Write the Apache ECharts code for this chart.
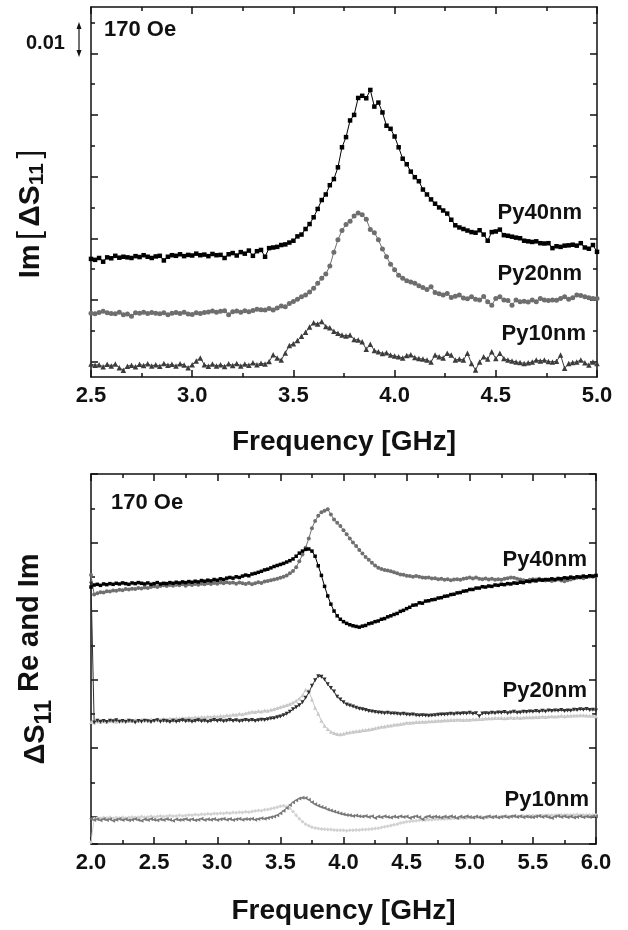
<!DOCTYPE html>
<html>
<head>
<meta charset="utf-8">
<script src="https://cdn.jsdelivr.net/npm/echarts@6/dist/echarts.min.js"></script>
<style>html,body{margin:0;padding:0;background:#fff}#c{width:628px;height:930px}</style>
</head>
<body>
<div id="c"></div>
<script>
// ---------- DATA ----------
// Top panel: Im[dS11], 0.01 units, f = 2.50 .. 5.00 GHz, step 0.02
const freqTop = [];
for (let i = 0; i < 126; i++) freqTop.push(+(2.5 + 0.02 * i).toFixed(2));
const topPy40 = [3.83,3.80,3.86,3.74,3.88,3.85,3.93,3.87,3.90,3.88, 3.86,3.92,3.89,3.95,3.90,3.86,3.91,3.93,3.78,3.90,
 3.95,3.93,3.98,3.92,3.96,3.94,4.00,3.95,3.97,3.92, 3.99,3.95,3.96,3.86,3.98,4.02,3.94,4.05,4.00,4.10,
 3.93,4.08,4.12,3.90,4.18,4.20,4.22,4.28,4.30,4.36, 4.42,4.56,4.62,4.80,4.96,5.18,5.45,5.74,5.92,6.22,
 6.42,6.80,7.45,7.78,8.32,8.50,9.05,9.12,9.04,9.31, 8.77,8.90,8.58,8.15,8.05,7.80,7.45,7.08,6.90,6.66,
 6.48,6.35,6.08,5.92,5.76,5.62,5.50,5.40,5.30,5.10, 4.92,4.85,4.80,4.75,4.70,4.68,4.76,4.62,4.42,4.70,
 4.72,4.78,4.60,4.58,4.55,4.52,4.50,4.42,4.40,4.38, 4.40,4.34,4.33,4.34,4.18,4.24,4.22,4.26,4.27,4.29,
 4.26,4.34,4.20,4.16,4.28,4.06];
const topPy20 = [2.07,2.05,2.09,2.13,2.08,2.06,2.05,2.10,2.02,2.04, 1.97,2.08,2.07,2.10,2.06,2.09,2.07,2.05,2.08,2.02,
 2.07,2.09,2.06,2.10,2.04,2.03,2.08,2.06,2.09,2.11, 2.14,2.10,2.13,2.15,2.02,2.12,2.14,2.10,2.15,2.12,
 2.16,2.20,2.18,2.17,2.22,2.17,2.24,2.30,2.28,2.38, 2.45,2.52,2.60,2.66,2.76,2.88,3.04,3.20,3.34,3.60,
 4.05,4.45,4.75,4.95,5.05,5.22,5.32,5.26,5.12,4.78, 4.68,4.45,4.15,3.90,3.66,3.48,3.30,3.20,3.12,3.08,
 3.04,2.96,2.90,2.84,2.93,2.74,2.70,2.66,2.71,2.58, 2.62,2.66,2.56,2.54,2.60,2.52,2.50,2.61,2.44,2.33,
 2.55,2.60,2.50,2.48,2.33,2.50,2.44,2.46,2.43,2.50, 2.44,2.55,2.50,2.48,2.50,2.49,2.55,2.60,2.52,2.57,
 2.66,2.64,2.60,2.57,2.55,2.55];
const topPy10 = [0.42,0.38,0.40,0.33,0.41,0.36,0.42,0.30,0.22,0.35, 0.38,0.33,0.41,0.37,0.43,0.36,0.40,0.35,0.44,0.38,
 0.41,0.36,0.43,0.39,0.30,0.40,0.52,0.62,0.40,0.35, 0.42,0.36,0.40,0.34,0.43,0.37,0.44,0.36,0.42,0.38,
 0.46,0.40,0.45,0.42,0.50,0.72,0.62,0.55,0.78,1.02, 1.08,1.18,1.32,1.45,1.62,1.76,1.72,1.80,1.64,1.60,
 1.48,1.42,1.36,1.33,1.36,1.22,1.20,1.14,0.90,1.06, 0.86,0.82,0.76,0.79,0.71,0.68,0.66,0.62,0.70,0.72,
 0.63,0.60,0.58,0.55,0.49,0.71,0.66,0.62,0.77,0.71, 0.55,0.58,0.55,0.77,0.44,0.23,0.49,0.66,0.58,0.82,
 0.60,0.77,0.60,0.55,0.52,0.49,0.47,0.44,0.46,0.49, 0.55,0.52,0.55,0.50,0.49,0.51,0.71,0.28,0.44,0.47,
 0.49,0.55,0.46,0.39,0.49,0.44];

// Bottom panel: dS11 Re and Im (offset traces), f = 2.000 .. 6.000 GHz, step 0.025
const freqBot = [];
for (let i = 0; i < 161; i++) freqBot.push(+(2.0 + 0.025 * i).toFixed(3));
const botPy40Re = [7.50,7.56,7.58,7.55,7.59,7.57,7.60,7.58,7.61,7.59, 7.62,7.60,7.58,7.62,7.60,7.63,7.61,7.59,7.62,7.58,
 7.60,7.63,7.59,7.61,7.60,7.63,7.61,7.64,7.62,7.65, 7.63,7.66,7.64,7.67,7.65,7.69,7.67,7.70,7.68,7.72,
 7.70,7.74,7.72,7.76,7.78,7.76,7.80,7.78,7.82,7.85, 7.83,7.88,7.90,7.93,7.96,8.00,8.02,8.06,8.10,8.13,
 8.16,8.19,8.23,8.27,8.32,8.40,8.49,8.55,8.60,8.61, 8.55,8.40,8.12,7.84,7.52,7.24,7.00,6.80,6.66,6.56,
 6.49,6.44,6.40,6.37,6.35,6.33,6.36,6.38,6.43,6.45, 6.49,6.51,6.56,6.58,6.63,6.66,6.70,6.73,6.79,6.82,
 6.87,6.91,6.97,6.98,7.04,7.03,7.09,7.10,7.13,7.14, 7.18,7.19,7.23,7.24,7.28,7.29,7.33,7.34,7.38,7.39,
 7.43,7.43,7.47,7.47,7.51,7.50,7.53,7.52,7.56,7.55, 7.58,7.57,7.60,7.59,7.62,7.61,7.64,7.63,7.67,7.66,
 7.69,7.68,7.71,7.70,7.72,7.71,7.74,7.72,7.75,7.74, 7.77,7.76,7.79,7.77,7.80,7.79,7.82,7.80,7.83,7.82,
 7.84];
const botPy40Im = [7.85,7.28,7.32,7.35,7.34,7.38,7.37,7.40,7.39,7.42, 7.41,7.44,7.43,7.45,7.44,7.47,7.46,7.49,7.47,7.50,
 7.52,7.50,7.53,7.55,7.53,7.56,7.54,7.57,7.55,7.58, 7.54,7.58,7.56,7.59,7.57,7.60,7.58,7.61,7.59,7.62,
 7.60,7.63,7.61,7.64,7.62,7.63,7.60,7.63,7.61,7.59, 7.62,7.58,7.61,7.64,7.62,7.66,7.68,7.70,7.72,7.74,
 7.77,7.80,7.84,7.90,7.97,8.08,8.25,8.45,8.65,8.92, 9.22,9.43,9.58,9.68,9.73,9.77,9.62,9.47,9.38,9.28,
 9.16,9.04,8.92,8.80,8.70,8.58,8.48,8.38,8.30,8.21, 8.13,8.06,8.03,8.00,7.98,7.96,7.93,7.90,7.87,7.86,
 7.83,7.82,7.80,7.82,7.80,7.78,7.77,7.78,7.75,7.76, 7.73,7.74,7.71,7.73,7.70,7.72,7.73,7.71,7.74,7.76,
 7.78,7.75,7.78,7.74,7.73,7.75,7.72,7.74,7.71,7.73, 7.71,7.74,7.76,7.78,7.77,7.74,7.72,7.70,7.68,7.71,
 7.73,7.72,7.74,7.71,7.69,7.72,7.68,7.70,7.72,7.69, 7.67,7.70,7.72,7.75,7.77,7.78,7.76,7.79,7.81,7.80,
 7.83];
const botPy20Im = [7.60,3.55,3.60,3.57,3.59,3.56,3.60,3.58,3.61,3.57, 3.59,3.56,3.60,3.58,3.55,3.59,3.57,3.60,3.58,3.56,
 3.59,3.61,3.57,3.60,3.58,3.56,3.60,3.57,3.59,3.61, 3.58,3.60,3.57,3.59,3.61,3.58,3.60,3.57,3.59,3.62,
 3.59,3.61,3.58,3.60,3.62,3.59,3.61,3.58,3.60,3.62, 3.60,3.62,3.59,3.61,3.63,3.62,3.64,3.66,3.67,3.70,
 3.72,3.76,3.80,3.86,3.93,3.99,4.05,4.14,4.27,4.42, 4.62,4.78,4.90,4.88,4.80,4.66,4.55,4.45,4.30,4.22,
 4.14,4.07,4.04,4.01,3.98,3.95,3.93,3.91,3.88,3.87, 3.85,3.84,3.83,3.82,3.83,3.81,3.81,3.80,3.79,3.80,
 3.78,3.77,3.78,3.76,3.75,3.76,3.75,3.74,3.75,3.76, 3.77,3.78,3.78,3.79,3.80,3.79,3.81,3.80,3.82,3.81,
 3.83,3.80,3.82,3.73,3.81,3.82,3.81,3.83,3.82,3.84, 3.83,3.85,3.82,3.84,3.86,3.83,3.84,3.86,3.85,3.87,
 3.86,3.88,3.86,3.89,3.87,3.90,3.88,3.90,3.89,3.91, 3.88,3.90,3.89,3.92,3.91,3.93,3.92,3.94,3.91,3.92,
 3.90];
const botPy20Re = [3.56,3.55,3.58,3.56,3.59,3.57,3.60,3.58,3.57,3.60, 3.58,3.61,3.59,3.60,3.62,3.60,3.63,3.61,3.62,3.64,
 3.62,3.64,3.63,3.65,3.64,3.66,3.65,3.67,3.66,3.68, 3.67,3.69,3.68,3.70,3.69,3.71,3.70,3.72,3.71,3.73,
 3.72,3.74,3.73,3.76,3.75,3.78,3.77,3.80,3.79,3.82, 3.84,3.86,3.85,3.88,3.87,3.90,3.89,3.92,3.94,3.97,
 4.00,4.03,4.06,4.09,4.13,4.18,4.25,4.34,4.50,4.48, 4.22,3.98,3.80,3.60,3.45,3.36,3.28,3.24,3.21,3.20,
 3.22,3.25,3.26,3.28,3.29,3.30,3.32,3.33,3.34,3.36, 3.38,3.40,3.42,3.43,3.45,3.46,3.48,3.49,3.50,3.52,
 3.54,3.54,3.55,3.56,3.56,3.57,3.57,3.58,3.58,3.59, 3.60,3.60,3.61,3.61,3.62,3.62,3.63,3.63,3.62,3.63,
 3.63,3.64,3.64,3.65,3.65,3.66,3.67,3.67,3.68,3.68, 3.68,3.67,3.68,3.69,3.68,3.69,3.68,3.69,3.70,3.70,
 3.70,3.71,3.71,3.72,3.71,3.72,3.73,3.72,3.73,3.74, 3.73,3.74,3.74,3.75,3.75,3.76,3.76,3.75,3.74,3.74,
 3.73];
const botPy10Im = [0.74,0.70,0.72,0.69,0.73,0.70,0.72,0.68,0.71,0.73, 0.70,0.72,0.69,0.71,0.73,0.70,0.68,0.72,0.70,0.73,
 0.71,0.69,0.72,0.70,0.73,0.71,0.68,0.72,0.70,0.71, 0.73,0.70,0.72,0.69,0.71,0.74,0.70,0.72,0.71,0.73,
 0.70,0.72,0.74,0.71,0.73,0.70,0.72,0.74,0.71,0.73, 0.72,0.74,0.71,0.73,0.75,0.74,0.76,0.78,0.80,0.84,
 0.90,0.97,1.05,1.14,1.22,1.28,1.33,1.35,1.34,1.29, 1.22,1.16,1.12,1.08,1.05,1.01,0.98,0.95,0.92,0.89,
 0.87,0.85,0.84,0.82,0.83,0.81,0.80,0.82,0.79,0.81, 0.76,0.80,0.78,0.81,0.79,0.77,0.80,0.78,0.81,0.79,
 0.80,0.76,0.79,0.81,0.78,0.72,0.79,0.81,0.78,0.80, 0.79,0.77,0.80,0.78,0.81,0.79,0.76,0.80,0.78,0.81,
 0.79,0.77,0.80,0.78,0.76,0.79,0.81,0.78,0.80,0.77, 0.79,0.81,0.78,0.80,0.82,0.79,0.81,0.78,0.80,0.79,
 0.78,0.80,0.82,0.79,0.81,0.78,0.76,0.80,0.82,0.79, 0.81,0.78,0.80,0.77,0.79,0.81,0.78,0.80,0.79,0.81,
 0.81];
const botPy10Re = [0.05,0.74,0.76,0.75,0.77,0.76,0.78,0.75,0.77,0.76, 0.78,0.76,0.77,0.79,0.77,0.78,0.80,0.78,0.79,0.81,
 0.79,0.80,0.82,0.80,0.81,0.83,0.81,0.82,0.84,0.82, 0.83,0.85,0.84,0.86,0.85,0.87,0.86,0.88,0.87,0.89,
 0.88,0.90,0.89,0.91,0.90,0.92,0.91,0.93,0.92,0.94, 0.93,0.95,0.96,0.98,0.97,1.00,1.01,1.03,1.05,1.07,
 1.10,1.12,1.09,1.04,0.95,0.84,0.74,0.65,0.58,0.53, 0.49,0.47,0.45,0.44,0.43,0.42,0.42,0.41,0.40,0.40,
 0.40,0.39,0.40,0.40,0.41,0.41,0.42,0.42,0.43,0.44, 0.45,0.46,0.48,0.50,0.52,0.54,0.56,0.58,0.61,0.63,
 0.65,0.66,0.67,0.68,0.69,0.70,0.70,0.71,0.71,0.72, 0.72,0.73,0.73,0.74,0.74,0.75,0.75,0.76,0.76,0.76,
 0.77,0.77,0.77,0.78,0.78,0.78,0.79,0.79,0.79,0.79, 0.80,0.80,0.80,0.80,0.81,0.81,0.81,0.82,0.82,0.82,
 0.83,0.83,0.83,0.83,0.84,0.84,0.84,0.84,0.85,0.85, 0.85,0.85,0.85,0.85,0.86,0.85,0.85,0.85,0.85,0.85,
 0.85];

// ---------- CHART ----------
const FONT = '"Liberation Sans", Arial, Helvetica, sans-serif';
const INK = '#111';
const tickCats = Array(12).fill('');
const pairs = (fr, vals) => fr.map((f, i) => [f, vals[i]]);

function xAxisDef(grid, pos, min, max, withLabels, gap) {
  const a = {
    gridIndex: grid, type: 'value', position: pos, min: min, max: max, interval: 0.5,
    axisLine: { show: true, onZero: false, lineStyle: { color: INK, width: 1.5 } },
    axisTick: { show: true, inside: true, length: 7, lineStyle: { color: INK, width: 1.5 } },
    minorTick: { show: true, splitNumber: 2, length: 4, lineStyle: { color: INK, width: 1.5 } },
    splitLine: { show: false }, minorSplitLine: { show: false },
    axisLabel: { show: withLabels, margin: 8, color: INK, fontFamily: FONT, fontWeight: 'bold', fontSize: 22,
      showMinLabel: true, showMaxLabel: true, hideOverlap: false, formatter: v => v.toFixed(1) }
  };
  if (withLabels) {
    a.name = 'Frequency [GHz]';
    a.nameLocation = 'middle';
    a.nameGap = gap;
    a.nameMoveOverlap = false;
    a.nameTextStyle = { color: INK, fontFamily: FONT, fontWeight: 'bold', fontSize: 28 };
  }
  return a;
}
function frameY(grid, pos, min, max, extra) {
  return Object.assign({
    gridIndex: grid, type: 'value', position: pos, min: min, max: max,
    axisLine: { show: true, onZero: false, lineStyle: { color: INK, width: 1.5 } },
    axisTick: { show: false }, axisLabel: { show: false }, splitLine: { show: false }
  }, extra || {});
}
function catTicks(grid, pos, interval, len) {
  return {
    gridIndex: grid, type: 'category', position: pos, offset: 0, data: tickCats, boundaryGap: true,
    axisLine: { show: false }, axisLabel: { show: false }, splitLine: { show: false },
    axisTick: { show: true, inside: true, alignWithLabel: true, interval: interval, length: len,
      lineStyle: { color: INK, width: 1.5 } }
  };
}
function valTicks(grid, pos, max) {
  return {
    gridIndex: grid, type: 'value', position: pos, offset: 0, inverse: true, min: 0, max: max, interval: 2,
    axisLine: { show: false }, axisLabel: { show: false }, splitLine: { show: false },
    axisTick: { show: true, inside: true, length: 7, lineStyle: { color: INK, width: 1.5 } },
    minorTick: { show: true, splitNumber: 2, length: 4, lineStyle: { color: INK, width: 1.5 } },
    minorSplitLine: { show: false }
  };
}
function ser(name, xi, yi, fr, vals, symbol, size, color, rot) {
  return {
    name: name, type: 'line', xAxisIndex: xi, yAxisIndex: yi, data: pairs(fr, vals),
    symbol: symbol, symbolSize: size, symbolRotate: rot || 0, showSymbol: true, showAllSymbol: true,
    itemStyle: { color: color }, lineStyle: { color: color, width: 1 },
    silent: true, emphasis: { disabled: true }, animation: false
  };
}

const chart = echarts.init(document.getElementById('c'), null, { renderer: 'canvas' });
chart.setOption({
  animation: false,
  backgroundColor: '#fff',
  grid: [
    { left: 91, top: 7, width: 506, height: 370, containLabel: false, outerBoundsMode: 'none' },
    { left: 91, top: 474, width: 505, height: 370, containLabel: false, outerBoundsMode: 'none' }
  ],
  xAxis: [
    xAxisDef(0, 'bottom', 2.5, 5.0, true, 51),
    xAxisDef(0, 'top', 2.5, 5.0, false),
    xAxisDef(1, 'bottom', 2.0, 6.0, true, 53),
    xAxisDef(1, 'top', 2.0, 6.0, false)
  ],
  yAxis: [
    frameY(0, 'left', 0, 12, {
      name: '{t|Im}{g| }{b|[}{g| }{u|ΔS}{s|11}{g| }{b|]}', nameLocation: 'middle', nameRotate: 90, nameGap: 43,
      nameMoveOverlap: false,
      nameTextStyle: { color: INK, padding: [0, 44, 0, 0], rich: {
        t: { fontFamily: FONT, fontWeight: 'bold', fontSize: 29, color: INK },
        u: { fontFamily: FONT, fontWeight: 'bold', fontSize: 30, color: INK },
        g: { fontFamily: FONT, fontSize: 16, color: INK },
        b: { fontFamily: FONT, fontWeight: 'normal', fontSize: 32, color: INK },
        s: { fontFamily: FONT, fontWeight: 'bold', fontSize: 21, color: INK, padding: [14, 0, 0, 0] }
      } }
    }),
    frameY(0, 'right', 0, 12),
    catTicks(0, 'left', 0, 4),
    catTicks(0, 'left', 1, 7),
    catTicks(0, 'right', 0, 4),
    catTicks(0, 'right', 1, 7),
    frameY(1, 'left', 0, 10.8, {
      name: '{d|ΔS}{s|11}{t| Re and Im}', nameLocation: 'middle', nameRotate: 90, nameGap: 35,
      nameMoveOverlap: false,
      nameTextStyle: { color: INK, rich: {
        t: { fontFamily: FONT, fontWeight: 'bold', fontSize: 29, color: INK },
        d: { fontFamily: FONT, fontWeight: 'bold', fontSize: 29, color: INK, padding: [12, 0, 0, 0] },
        s: { fontFamily: FONT, fontWeight: 'bold', fontSize: 23, color: INK, padding: [30, 0, 0, 0] }
      } }
    }),
    frameY(1, 'right', 0, 10.8),
    valTicks(1, 'left', 10.8),
    valTicks(1, 'right', 10.8)
  ],
  series: [
    ser('Py10nm', 0, 0, freqTop, topPy10, 'triangle', 5.5, '#3c3c3c'),
    ser('Py20nm', 0, 0, freqTop, topPy20, 'circle', 5, '#6e6e6e'),
    ser('Py40nm', 0, 0, freqTop, topPy40, 'rect', 4.5, '#000000'),
    ser('Py10nm Re', 2, 6, freqBot, botPy10Re, 'diamond', 4, '#d2d2d2'),
    ser('Py10nm Im', 2, 6, freqBot, botPy10Im, 'triangle', 4, '#787878', 90),
    ser('Py20nm Re', 2, 6, freqBot, botPy20Re, 'triangle', 4, '#c8c8c8'),
    ser('Py20nm Im', 2, 6, freqBot, botPy20Im, 'triangle', 4, '#2e2e2e', 180),
    ser('Py40nm Im', 2, 6, freqBot, botPy40Im, 'circle', 4, '#707070'),
    ser('Py40nm Re', 2, 6, freqBot, botPy40Re, 'rect', 3.5, '#000000')
  ],
  graphic: [
    { type: 'text', x: 26, y: 43, silent: true, style: { text: '0.01', fill: INK, font: 'bold 20px ' + FONT, align: 'left', verticalAlign: 'middle' } },
    { type: 'line', silent: true, shape: { x1: 79, y1: 26, x2: 79, y2: 53 }, style: { stroke: INK, lineWidth: 1.2 } },
    { type: 'polygon', silent: true, shape: { points: [[79, 22], [76.5, 29], [81.5, 29]] }, style: { fill: INK } },
    { type: 'polygon', silent: true, shape: { points: [[79, 57], [76.5, 50], [81.5, 50]] }, style: { fill: INK } },
    { type: 'text', x: 104, y: 30, silent: true, style: { text: '170 Oe', fill: INK, font: 'bold 22px ' + FONT, align: 'left', verticalAlign: 'middle' } },
    { type: 'text', x: 582, y: 213, silent: true, style: { text: 'Py40nm', fill: INK, font: 'bold 22px ' + FONT, align: 'right', verticalAlign: 'middle' } },
    { type: 'text', x: 582, y: 274, silent: true, style: { text: 'Py20nm', fill: INK, font: 'bold 22px ' + FONT, align: 'right', verticalAlign: 'middle' } },
    { type: 'text', x: 586, y: 334, silent: true, style: { text: 'Py10nm', fill: INK, font: 'bold 22px ' + FONT, align: 'right', verticalAlign: 'middle' } },
    { type: 'text', x: 111, y: 503, silent: true, style: { text: '170 Oe', fill: INK, font: 'bold 22px ' + FONT, align: 'left', verticalAlign: 'middle' } },
    { type: 'text', x: 587, y: 560, silent: true, style: { text: 'Py40nm', fill: INK, font: 'bold 22px ' + FONT, align: 'right', verticalAlign: 'middle' } },
    { type: 'text', x: 587, y: 691, silent: true, style: { text: 'Py20nm', fill: INK, font: 'bold 22px ' + FONT, align: 'right', verticalAlign: 'middle' } },
    { type: 'text', x: 589, y: 800, silent: true, style: { text: 'Py10nm', fill: INK, font: 'bold 22px ' + FONT, align: 'right', verticalAlign: 'middle' } }
  ]
});
</script>
</body>
</html>
